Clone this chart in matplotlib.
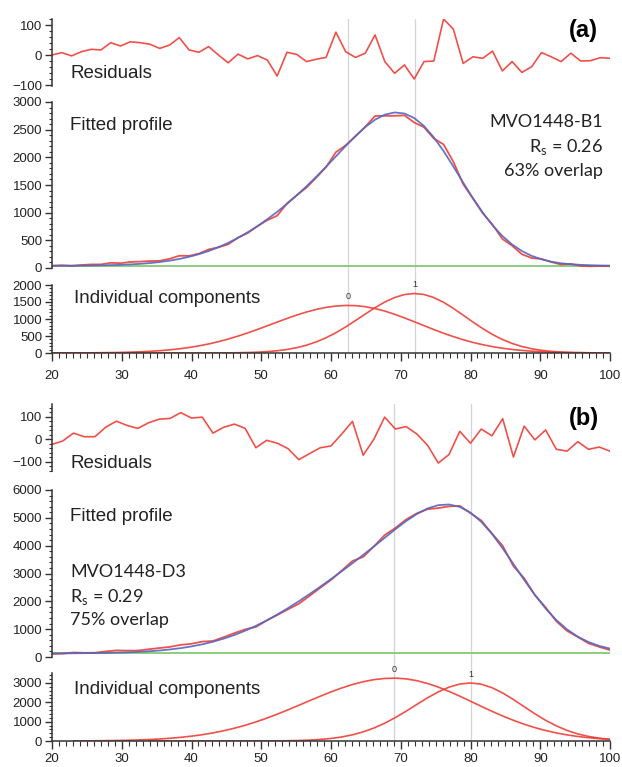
import numpy as np
import matplotlib
matplotlib.use('Agg')
import matplotlib.pyplot as plt
from matplotlib.ticker import MultipleLocator

plt.rcParams['font.family'] = ['Liberation Sans', 'DejaVu Sans']

# ---------------- data: panel (a) ----------------
x_range = (20, 100)
res_a = [0, 8, -3, 11, 19, 17, 41, 30, 44, 41, 36, 22, 33, 58, 17, 9, 28, 0, -26, 3,
         -13, -2, -17, -70, 9, 2, -22, -14, -8, 76, 11, -8, 6, 67, -22, -61, -33, -80,
         -22, -20, 120, 86, -28, -6, -11, 13, -53, -22, -58, -39, 8, -6, -22, 6, -20,
         -19, -9, -11]
comp0_a = [1, 1, 2, 3, 5, 8, 12, 17, 25, 35, 49, 68, 92, 123, 162, 209, 266, 333, 410,
           497, 592, 694, 801, 909, 1015, 1116, 1206, 1282, 1342, 1381, 1399, 1393, 1362,
           1307, 1232, 1139, 1033, 920, 805, 690, 582, 482, 391, 311, 244, 187, 141, 104,
           76, 54, 38, 26, 17, 12, 8, 5, 3, 2]
comp1_a = [0, 0, 0, 0, 0, 0, 0, 0, 0, 0, 0, 0, 0, 0, 0, 1, 1, 2, 4, 8, 14, 24, 41, 66,
           103, 157, 230, 327, 449, 596, 767, 953, 1145, 1333, 1500, 1632, 1719, 1750,
           1721, 1631, 1491, 1312, 1113, 910, 717, 544, 398, 281, 191, 125, 79, 48, 28,
           16, 9, 5, 2, 1]
baseline_a = 40
peaks_a = [62.5, 72.0]
name_a = 'MVO1448-B1'
rs_a = '0.26'
overlap_a = '63% overlap'

# ---------------- data: panel (b) ----------------
res_b = [-23, -8, 27, 11, 11, 53, 80, 61, 48, 73, 89, 92, 118, 94, 98, 27, 53, 67, 48,
         -38, -5, -18, -42, -91, -64, -38, -30, 23, 79, -71, 0, 98, 45, 56, 23, -27,
         -106, -68, 35, -18, 45, 15, 91, -79, 58, -3, 41, -45, -53, -11, -45, -35, -53]
nan = np.nan
comp0_b = [nan, nan, 5, 8, 12, 18, 26, 38, 53, 75, 103, 141, 189, 250, 325, 418, 530, 661,
           813, 986, 1179, 1389, 1613, 1846, 2083, 2315, 2538, 2742, 2920, 3065, 3171,
           3233, 3250, 3212, 3118, 2974, 2786, 2564, 2318, 2057, 1793, 1536, 1292, 1069,
           867, 692, 542, 417, 315, 234, 171, 122, 86]
comp1_b = [nan, nan, nan, nan, nan, nan, nan, nan, nan, 0, 0, 0, 0, 0, 0, 0, 0, 0, 1, 2,
           4, 8, 14, 26, 47, 80, 132, 209, 320, 473, 671, 918, 1212, 1542, 1890, 2233,
           2540, 2786, 2945, 3000, 2937, 2757, 2482, 2144, 1774, 1407, 1070, 780, 546,
           366, 236, 145, 86]
baseline_b = 130
peaks_b = [69.0, 80.0]
name_b = 'MVO1448-D3'
rs_b = '0.29'
overlap_b = '75% overlap'

comp_labels = ['0', '1']

RED = '#ee3e36'
BLUE = '#5566c0'
GREEN = '#8ccc7c'
GRAY = '#d4d4d4'
AXC = '#333333'

W_PX, H_PX = 622, 767
fig = plt.figure(figsize=(W_PX / 100, H_PX / 100), dpi=100)

L = 52 / W_PX
WID = 558 / W_PX


def fy(px):
    return 1 - px / H_PX


def style_y(ax, major, minor):
    for s in ['top', 'right', 'bottom']:
        ax.spines[s].set_visible(False)
    ax.spines['left'].set_color(AXC)
    ax.spines['left'].set_linewidth(1.1)
    ax.yaxis.set_major_locator(MultipleLocator(major))
    ax.yaxis.set_minor_locator(MultipleLocator(minor))
    ax.tick_params(axis='y', which='major', length=5, width=1.0, color=AXC,
                   labelsize=9.5, labelcolor='#222222', pad=2)
    ax.tick_params(axis='y', which='minor', length=2.5, width=0.8, color=AXC)
    ax.set_xlim(*x_range)
    ax.set_facecolor('none')


def panel(res, comp0, comp1, baseline, peaks, geo):
    n = len(res)
    x = np.linspace(x_range[0], x_range[1], n)
    c0 = np.array(comp0, dtype=float)
    c1 = np.array(comp1, dtype=float)
    fitted = baseline + np.nan_to_num(c0) + np.nan_to_num(c1)
    observed = fitted + np.array(res, dtype=float)

    # background axes for the vertical guide lines
    top_px, bot_px = geo['res'][0], geo['comp'][1]
    axbg = fig.add_axes([L, fy(bot_px), WID, (bot_px - top_px) / H_PX], zorder=0)
    axbg.set_xlim(*x_range)
    axbg.axis('off')
    for p in peaks:
        axbg.axvline(p, color=GRAY, lw=0.9)

    # residuals
    t, b = geo['res']
    ax = fig.add_axes([L, fy(b), WID, (b - t) / H_PX], zorder=1)
    style_y(ax, 100, 20)
    ax.xaxis.set_visible(False)
    ax.plot(x, res, color=RED, lw=1.2, alpha=0.9)
    ax.set_ylim(*geo['res_lim'])

    # fitted profile
    t, b = geo['fit']
    ax = fig.add_axes([L, fy(b), WID, (b - t) / H_PX], zorder=1)
    style_y(ax, geo['fit_major'], geo['fit_minor'])
    ax.xaxis.set_visible(False)
    ax.plot(x, np.full_like(x, baseline, dtype=float), color=GREEN, lw=1.4)
    ax.plot(x, observed, color=RED, lw=1.3, alpha=0.9)
    ax.plot(x, fitted, color=BLUE, lw=1.3, alpha=0.9)
    ax.set_ylim(*geo['fit_lim'])

    # components
    t, b = geo['comp']
    ax = fig.add_axes([L, fy(b), WID, (b - t) / H_PX], zorder=1)
    style_y(ax, geo['comp_major'], geo['comp_minor'])
    ax.spines['bottom'].set_visible(True)
    ax.spines['bottom'].set_color(AXC)
    ax.spines['bottom'].set_linewidth(1.1)
    ax.xaxis.set_major_locator(MultipleLocator(10))
    ax.xaxis.set_minor_locator(MultipleLocator(1))
    ax.tick_params(axis='x', which='major', length=6, width=1.0, color=AXC,
                   labelsize=9.5, labelcolor='#222222', pad=geo['xpad'])
    ax.tick_params(axis='x', which='minor', length=3.5, width=0.8, color=AXC)
    for c, p, lab in zip([c0, c1], peaks, comp_labels):
        ax.plot(x, c, color=RED, lw=1.2, alpha=0.9)
        ax.annotate(lab, xy=(p, np.nanmax(c)), xytext=(0, 3), textcoords='offset points',
                    ha='center', va='bottom', fontsize=6.5, color='#333333',
                    annotation_clip=False)
    ax.set_ylim(*geo['comp_lim'])


geo_a = dict(res=(18.7, 86.2), res_lim=(-104, 121),
             fit=(102, 268), fit_lim=(0, 3000), fit_major=500, fit_minor=100,
             comp=(285, 353), comp_lim=(0, 2000), comp_major=500, comp_minor=100,
             xpad=6)
geo_b = dict(res=(404.3, 470.7), res_lim=(-140, 155),
             fit=(490, 657), fit_lim=(0, 6000), fit_major=1000, fit_minor=200,
             comp=(673.3, 741), comp_lim=(0, 3500), comp_major=1000, comp_minor=200,
             xpad=2.5)

panel(res_a, comp0_a, comp1_a, baseline_a, peaks_a, geo_a)
panel(res_b, comp0_b, comp1_b, baseline_b, peaks_b, geo_b)

LAB = 13.5
ANN = dict(fontsize=13, family=['Lato', 'DejaVu Sans'], color='#222222')


def ftext(xp, yp, s, **kw):
    fig.text(xp / W_PX, fy(yp), s, **kw)


# panel (a) texts
ftext(583, 30, '(a)', fontsize=17, fontweight='bold', ha='center', va='center')
ftext(70, 73, 'Residuals', fontsize=LAB, ha='left', va='center', color='#222222')
ftext(70, 125.7, 'Fitted profile', fontsize=LAB, ha='left', va='center', color='#222222')
ftext(74, 298.3, 'Individual components', fontsize=LAB, ha='left', va='center', color='#222222')
ftext(603, 121.7, name_a, ha='right', va='center', **ANN)
ftext(603, 146.7, r'R$_\mathregular{s}$ = ' + rs_a, ha='right', va='center', **ANN)
ftext(603, 171, overlap_a, ha='right', va='center', **ANN)

# panel (b) texts
ftext(584, 418, '(b)', fontsize=17, fontweight='bold', ha='center', va='center')
ftext(70, 463.3, 'Residuals', fontsize=LAB, ha='left', va='center', color='#222222')
ftext(70, 516.7, 'Fitted profile', fontsize=LAB, ha='left', va='center', color='#222222')
ftext(74, 689.3, 'Individual components', fontsize=LAB, ha='left', va='center', color='#222222')
ftext(70, 571.7, name_b, ha='left', va='center', **ANN)
ftext(70, 596.7, r'R$_\mathregular{s}$ = ' + rs_b, ha='left', va='center', **ANN)
ftext(70, 620, overlap_b, ha='left', va='center', **ANN)

fig.savefig('out.png', dpi=100)
